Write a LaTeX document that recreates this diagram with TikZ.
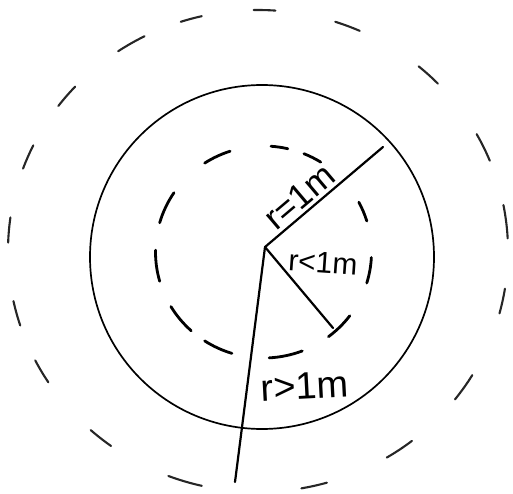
\documentclass[tikz,border=0pt]{standalone}
\usepackage{fontspec}
\setmainfont{Liberation Sans}
\begin{document}
\begin{tikzpicture}[x=1pt,y=1pt,
  ray/.style={line width=2.2pt, line cap=round},
  rim/.style={line width=1.7pt},
  idash/.style={line width=2.8pt, line cap=round},
  odash/.style={line width=2.1pt, line cap=round, black!85},
  lab/.style={inner sep=0pt}]
\useasboundingbox (0,0) rectangle (513,493);
\coordinate (oc) at (258,242);
\coordinate (ic) at (263.5,241);
% solid circle
\node[circle, draw, rim, minimum size=344pt, inner sep=0pt] (sol) at (262,236) {};
% outer dashed circle
\foreach \s/\e in {103/108, 86/91, 66/72, 117/124, 44/50, 137/143, 154/160, 22/29, 3/11, 172/178, -15/-9, 192/198, 207/213, -38/-31, 228/234, -59/-52, 249/257, -80/-74}
  \draw[odash] ([shift={(\s:250 and 241)}]oc) arc[start angle=\s, end angle=\e, x radius=250, y radius=241];
% inner dashed circle
\foreach \s/\e in {77/86, 108/123, 58/68, 146/164, 179/196, 211/228, 237/253, -87/-69, 17/28, -17/-3, -53/-37}
  \draw[idash] ([shift={(\s:108 and 106)}]ic) arc[start angle=\s, end angle=\e, x radius=108, y radius=106];
% rays
\coordinate (C) at (265,246);
\coordinate (A) at (383,346);
\coordinate (B) at (333,165);
\coordinate (D) at (235,11);
\draw[ray] (C) -- node[lab, pos=0.38, sloped, above=3pt, font=\fontsize{35}{40}\selectfont] (l1) {r=1m} (A);
\draw[ray] (C) -- (B);
\draw[ray] (C) -- (D);
% labels
\node[lab, rotate=-4, font=\fontsize{30}{36}\selectfont] (l2) at (323,230) {r<1m};
\node[lab, rotate=3, font=\fontsize{38}{44}\selectfont] (l3) at (305,107) {r>1m};
\end{tikzpicture}
\end{document}
